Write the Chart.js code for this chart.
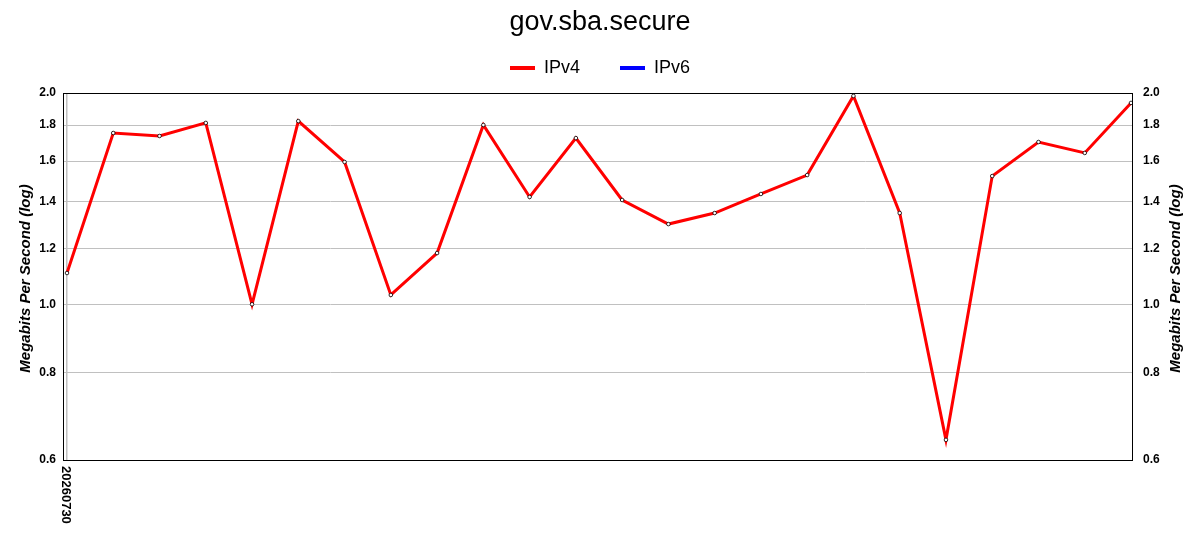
<!DOCTYPE html>
<html><head><meta charset="utf-8">
<script src="https://cdn.jsdelivr.net/npm/chart.js@4/dist/chart.umd.min.js"></script>
<style>html,body{margin:0;padding:0;background:#fff}#wrap{width:1200px;height:550px}</style>
</head><body><div id="wrap"><canvas id="c" width="1200" height="550"></canvas></div>
<script>
const chartTitle = "gov.sba.secure";
const categories = ["20260730","","","","","","","","","","","","","","","","","","","","","","",""];
const ipv4 = [1.108,1.754,1.737,1.813,1.0,1.824,1.595,1.031,1.183,1.801,1.422,1.725,1.408,1.301,1.349,1.436,1.528,1.981,1.349,0.641,1.523,1.703,1.643,1.936];
const ipv6 = categories.map(() => null);
const seriesNames = ["IPv4", "IPv6"];
const yTicks = [0.6,0.8,1.0,1.2,1.4,1.6,1.8,2.0];
const yTitle = "Megabits Per Second (log)";
const FONT = "'Liberation Sans', Arial, sans-serif";

const toPoints = arr => arr.map((v, i) => ({ x: i, y: v }));

const labelsPlugin = {
  id: 'customLabels',
  afterDraw(chart) {
    const ctx = chart.ctx, xs = chart.scales.x, a = chart.chartArea;
    ctx.save();
    // x category labels, rotated clockwise
    ctx.font = "bold 13px " + FONT;
    ctx.fillStyle = '#000';
    ctx.textAlign = 'left';
    ctx.textBaseline = 'middle';
    categories.forEach((lab, i) => {
      if (!lab) return;
      const px = xs.getPixelForValue(i);
      ctx.save();
      ctx.translate(px - 1, a.bottom + 6);
      ctx.rotate(Math.PI / 2);
      ctx.fillText(lab, 0, 0);
      ctx.restore();
    });
    // axis titles, both reading bottom-to-top
    ctx.font = "italic bold 15px " + FONT;
    ctx.textAlign = 'center';
    const cy = (a.top + a.bottom) / 2 + 2;
    [26, 1176].forEach(x => {
      ctx.save();
      ctx.translate(x, cy);
      ctx.rotate(-Math.PI / 2);
      ctx.fillText(yTitle, 0, 0);
      ctx.restore();
    });
    // frame
    ctx.strokeStyle = '#000'; ctx.lineWidth = 1;
    ctx.strokeRect(Math.round(a.left) + 0.5, Math.round(a.top) + 0.5, Math.round(a.right - a.left) - 1, Math.round(a.bottom - a.top));
    ctx.restore();
  }
};

const yAxisCommon = {
  type: 'logarithmic', min: 0.6, max: 2.0,
  afterBuildTicks(s) { s.ticks = yTicks.map(v => ({ value: v })); },
  title: { display: false },
};

new Chart(document.getElementById('c'), {
  type: 'line',
  data: {
    datasets: [
      { label: seriesNames[0], data: toPoints(ipv4), borderColor: '#ff0000', backgroundColor: '#ff0000', borderWidth: 3,
        pointRadius: 1.8, pointBackgroundColor: '#fff', pointBorderColor: '#000', pointBorderWidth: 0.8,
        tension: 0, xAxisID: 'x', yAxisID: 'y' },
      { label: seriesNames[1], data: toPoints(ipv6), borderColor: '#0000ff', backgroundColor: '#0000ff', borderWidth: 3,
        pointRadius: 1.8, pointBackgroundColor: '#fff', pointBorderColor: '#000', tension: 0, xAxisID: 'x', yAxisID: 'y' }
    ]
  },
  options: {
    responsive: false, animation: false,
    layout: { padding: 0 },
    plugins: {
      title: { display: true, text: chartTitle, color: '#000', font: { family: FONT, size: 27, weight: 'normal', lineHeight: 1.2 },
               padding: { top: 6, bottom: 10.6 } },
      legend: { display: true, position: 'top',
        labels: { color: '#000', font: { family: FONT, size: 18 }, usePointStyle: true, pointStyle: 'line',
                  pointStyleWidth: 25, padding: 10,
                  generateLabels(chart) {
                    return chart.data.datasets.map((d, i) => ({ text: i === 0 ? d.label + '      ' : d.label,
                      strokeStyle: d.borderColor, fillStyle: d.borderColor,
                      lineWidth: 4, pointStyle: 'line', hidden: false, datasetIndex: i, fontColor: '#000' }));
                  } } },
      tooltip: { enabled: false }
    },
    scales: {
      x: { type: 'linear', position: 'bottom', min: -0.0865, max: 23.043,
        afterBuildTicks(s) { s.ticks = [{ value: 0 }]; },
        ticks: { display: false },
        grid: { drawTicks: false, color: '#c0c0c0', lineWidth: 1.5 },
        border: { display: false },
        afterFit(s) { s.height = 90; } },
      xTop: { type: 'linear', position: 'top', display: true,
        ticks: { display: false }, grid: { display: false, drawTicks: false }, border: { display: false },
        afterFit(s) { s.height = 6; } },
      y: Object.assign({}, yAxisCommon, { position: 'left',
        ticks: { color: '#000', font: { family: FONT, size: 12, weight: 'bold' }, padding: 7,
                 callback: v => Number(v).toFixed(1) },
        grid: { drawTicks: false, color: '#c0c0c0' }, border: { display: false },
        afterFit(s) { s.width = 63; } }),
      y2: Object.assign({}, yAxisCommon, { position: 'right',
        ticks: { color: '#000', font: { family: FONT, size: 12, weight: 'bold' }, padding: 10,
                 callback: v => Number(v).toFixed(1) },
        grid: { display: false, drawTicks: false }, border: { display: false },
        afterFit(s) { s.width = 67; } })
    }
  },
  plugins: [labelsPlugin]
});
</script></body></html>
